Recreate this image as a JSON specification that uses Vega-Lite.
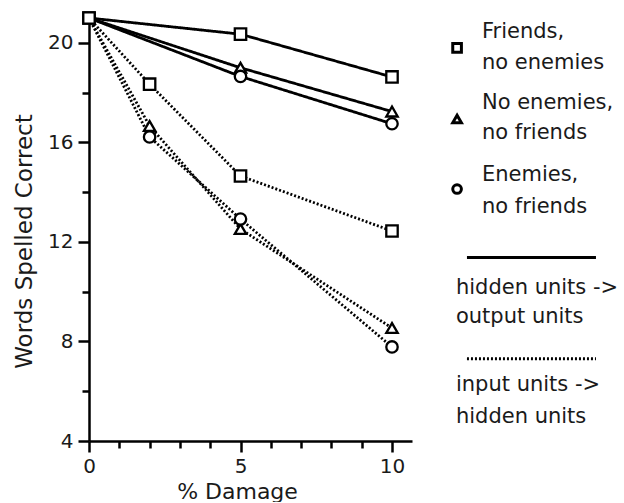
{
  "$schema": "https://vega.github.io/schema/vega-lite/v6.json",
  "padding": {"left": 13, "top": 7, "right": 0, "bottom": 0},
  "background": "white",
  "spacing": 20,
  "config": {
    "view": {"stroke": null},
    "font": "DejaVu Sans",
    "axis": {
      "grid": false,
      "domainColor": "black",
      "domainWidth": 2.5,
      "tickColor": "black",
      "tickWidth": 2.5,
      "labelColor": "#1a1a1a",
      "titleColor": "#1a1a1a",
      "labelFont": "DejaVu Sans",
      "titleFont": "DejaVu Sans",
      "labelFontSize": 20,
      "titleFontSize": 22,
      "titleFontWeight": "normal",
      "labelFlush": false,
      "labelOverlap": false
    }
  },
  "datasets": {
    "series": [
      {"damage": 0, "words": 21, "condition": "Friends, no enemies", "connection": "hidden units -> output units"},
      {"damage": 5, "words": 20.35, "condition": "Friends, no enemies", "connection": "hidden units -> output units"},
      {"damage": 10, "words": 18.63, "condition": "Friends, no enemies", "connection": "hidden units -> output units"},
      {"damage": 0, "words": 21, "condition": "No enemies, no friends", "connection": "hidden units -> output units"},
      {"damage": 5, "words": 19.0, "condition": "No enemies, no friends", "connection": "hidden units -> output units"},
      {"damage": 10, "words": 17.24, "condition": "No enemies, no friends", "connection": "hidden units -> output units"},
      {"damage": 0, "words": 21, "condition": "Enemies, no friends", "connection": "hidden units -> output units"},
      {"damage": 5, "words": 18.65, "condition": "Enemies, no friends", "connection": "hidden units -> output units"},
      {"damage": 10, "words": 16.75, "condition": "Enemies, no friends", "connection": "hidden units -> output units"},
      {"damage": 0, "words": 21, "condition": "Friends, no enemies", "connection": "input units -> hidden units"},
      {"damage": 2, "words": 18.34, "condition": "Friends, no enemies", "connection": "input units -> hidden units"},
      {"damage": 5, "words": 14.65, "condition": "Friends, no enemies", "connection": "input units -> hidden units"},
      {"damage": 10, "words": 12.44, "condition": "Friends, no enemies", "connection": "input units -> hidden units"},
      {"damage": 0, "words": 21, "condition": "No enemies, no friends", "connection": "input units -> hidden units"},
      {"damage": 2, "words": 16.66, "condition": "No enemies, no friends", "connection": "input units -> hidden units"},
      {"damage": 5, "words": 12.52, "condition": "No enemies, no friends", "connection": "input units -> hidden units"},
      {"damage": 10, "words": 8.54, "condition": "No enemies, no friends", "connection": "input units -> hidden units"},
      {"damage": 0, "words": 21, "condition": "Enemies, no friends", "connection": "input units -> hidden units"},
      {"damage": 2, "words": 16.22, "condition": "Enemies, no friends", "connection": "input units -> hidden units"},
      {"damage": 5, "words": 12.92, "condition": "Enemies, no friends", "connection": "input units -> hidden units"},
      {"damage": 10, "words": 7.78, "condition": "Enemies, no friends", "connection": "input units -> hidden units"}
    ],
    "legendText": [
      {"lx": 2.63, "ly": 0.66, "txt": "Friends,"},
      {"lx": 2.63, "ly": 1.69, "txt": "no enemies"},
      {"lx": 2.63, "ly": 3.01, "txt": "No enemies,"},
      {"lx": 2.63, "ly": 4.0, "txt": "no friends"},
      {"lx": 2.63, "ly": 5.4, "txt": "Enemies,"},
      {"lx": 2.63, "ly": 6.45, "txt": "no friends"},
      {"lx": 1.26, "ly": 9.14, "txt": "hidden units ->"},
      {"lx": 1.26, "ly": 10.1, "txt": "output units"},
      {"lx": 1.26, "ly": 12.35, "txt": "input units ->"},
      {"lx": 1.26, "ly": 13.4, "txt": "hidden units"}
    ],
    "legendSymbols": [
      {"lx": 1.32, "ly": 0.99, "condition": "Friends, no enemies"},
      {"lx": 1.32, "ly": 3.34, "condition": "No enemies, no friends"},
      {"lx": 1.32, "ly": 5.66, "condition": "Enemies, no friends"}
    ],
    "legendLines": [
      {"lx": 1.84, "lx2": 8.63, "ly": 7.93, "connection": "hidden units -> output units"},
      {"lx": 1.84, "lx2": 8.63, "ly": 11.28, "connection": "input units -> hidden units"}
    ]
  },
  "hconcat": [
    {
      "width": 323,
      "height": 423,
      "data": {"name": "series"},
      "encoding": {
        "x": {
          "field": "damage", "type": "quantitative",
          "scale": {"domain": [0, 10.66], "nice": false, "zero": false},
          "axis": {
            "title": "% Damage",
            "values": [0, 1, 2, 3, 4, 5, 6, 7, 8, 9, 10],
            "labelExpr": "datum.value % 5 === 0 ? datum.label : ''",
            "tickSize": {"condition": {"test": "datum.value % 5 === 0", "value": 11}, "value": 7},
            "labelPadding": 4,
            "titlePadding": 5,
            "titleFontSize": 22,
            "titleX": 148
          }
        },
        "y": {
          "field": "words", "type": "quantitative",
          "scale": {"domain": [4, 21], "nice": false, "zero": false},
          "axis": {
            "title": "Words Spelled Correct",
            "values": [4, 6, 8, 10, 12, 14, 16, 18, 20],
            "labelExpr": "datum.value % 4 === 0 ? datum.label : ''",
            "tickSize": {"condition": {"test": "datum.value % 4 === 0", "value": 11}, "value": 7},
            "labelPadding": 5,
            "titlePadding": 11,
            "titleFontSize": 23,
            "titleY": 223
          }
        }
      },
      "layer": [
        {
          "mark": {"type": "line", "color": "black", "strokeWidth": 2.8, "strokeCap": "butt"},
          "encoding": {
            "detail": {"field": "condition", "type": "nominal"},
            "strokeDash": {
              "field": "connection", "type": "nominal",
              "scale": {"domain": ["hidden units -> output units", "input units -> hidden units"], "range": [[1, 0], [2, 2]]},
              "legend": null
            }
          }
        },
        {
          "transform": [{"filter": "datum.damage > 0 || datum.condition == 'Friends, no enemies'"}],
          "mark": {"type": "point", "fill": "white", "stroke": "black", "strokeWidth": 2.3, "size": 130, "opacity": 1, "fillOpacity": 1},
          "encoding": {
            "shape": {
              "field": "condition", "type": "nominal",
              "scale": {"domain": ["Friends, no enemies", "No enemies, no friends", "Enemies, no friends"], "range": ["square", "triangle-up", "circle"]},
              "legend": null
            }
          }
        }
      ]
    },
    {
      "width": 190,
      "height": 423,
      "layer": [
        {
          "data": {"name": "legendText"},
          "mark": {"type": "text", "align": "left", "baseline": "alphabetic", "fontSize": 21, "font": "DejaVu Sans", "color": "#1a1a1a"},
          "encoding": {
            "x": {"field": "lx", "type": "quantitative", "scale": {"domain": [0, 10], "nice": false, "zero": false}, "axis": null},
            "y": {"field": "ly", "type": "quantitative", "scale": {"domain": [0, 14], "nice": false, "zero": false, "reverse": true}, "axis": null},
            "text": {"field": "txt"}
          }
        },
        {
          "data": {"name": "legendSymbols"},
          "mark": {"type": "point", "fill": "white", "stroke": "black", "strokeWidth": 3, "size": 75, "opacity": 1, "fillOpacity": 1},
          "encoding": {
            "x": {"field": "lx", "type": "quantitative"},
            "y": {"field": "ly", "type": "quantitative"},
            "shape": {
              "field": "condition", "type": "nominal",
              "scale": {"domain": ["Friends, no enemies", "No enemies, no friends", "Enemies, no friends"], "range": ["square", "triangle-up", "circle"]},
              "legend": null
            }
          }
        },
        {
          "data": {"name": "legendLines"},
          "mark": {"type": "rule", "color": "black", "strokeWidth": 3, "strokeCap": "butt"},
          "encoding": {
            "x": {"field": "lx", "type": "quantitative"},
            "x2": {"field": "lx2"},
            "y": {"field": "ly", "type": "quantitative"},
            "strokeDash": {
              "field": "connection", "type": "nominal",
              "scale": {"domain": ["hidden units -> output units", "input units -> hidden units"], "range": [[1, 0], [2, 2]]},
              "legend": null
            }
          }
        }
      ]
    }
  ]
}
